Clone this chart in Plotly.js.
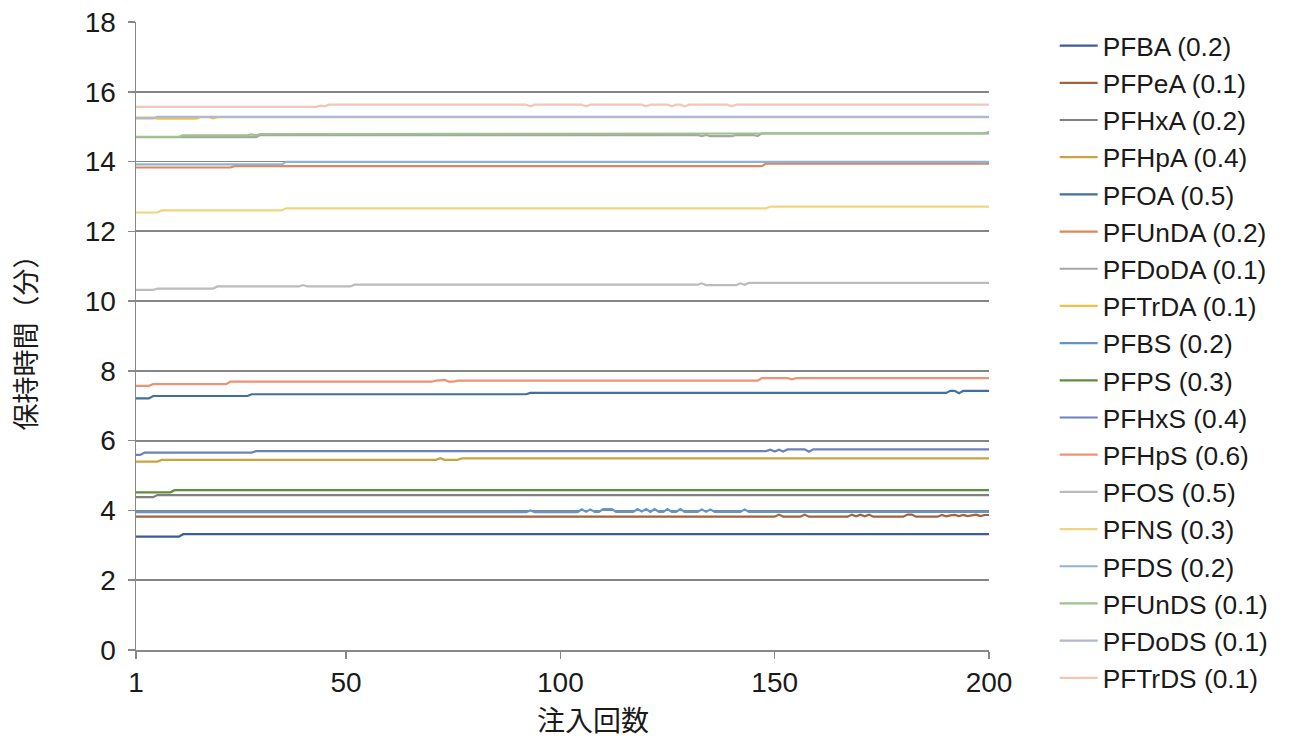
<!DOCTYPE html>
<html>
<head>
<meta charset="utf-8">
<script src="https://cdn.plot.ly/plotly-3.0.1.min.js"></script>
<style>
html,body{margin:0;padding:0;background:#fff;}
#chart{width:1294px;height:742px;}
</style>
</head>
<body>
<div id="chart"></div>
<script>
// Injection number (x) and step readings [fromInjection, retentionTime(min)] per compound
const injections = Array.from({length: 200}, (_, i) => i + 1);
const xTickVals = [1, 50, 100, 150, 200];
const xTickText = ['1', '50', '100', '150', '200'];

const names = ['PFBA (0.2)','PFPeA (0.1)','PFHxA (0.2)','PFHpA (0.4)','PFOA (0.5)','PFUnDA (0.2)',
  'PFDoDA (0.1)','PFTrDA (0.1)','PFBS (0.2)','PFPS (0.3)','PFHxS (0.4)','PFHpS (0.6)',
  'PFOS (0.5)','PFNS (0.3)','PFDS (0.2)','PFUnDS (0.1)','PFDoDS (0.1)','PFTrDS (0.1)'];

const PFBA   = [[1,3.25],[12,3.32]];
const PFPeA  = [[1,3.82],[151,3.88],[152,3.82],[157,3.88],[158,3.82],[168,3.88],[169,3.83],[170,3.88],[171,3.83],[172,3.88],[173,3.82],[181,3.88],[183,3.82],[189,3.87],[190,3.83],[191,3.86],[192,3.87],[193,3.84],[194,3.87],[195,3.84],[196,3.87],[197,3.88],[198,3.84],[199,3.87]];
const PFHxA  = [[1,4.38],[6,4.44]];
const PFHpA  = [[1,5.40],[7,5.45],[72,5.50],[73,5.45],[77,5.49]];
const PFOA   = [[1,7.21],[5,7.28],[28,7.33],[93,7.37],[191,7.43],[193,7.36],[194,7.43]];
const PFUnDA = [[1,13.83],[24,13.87],[148,13.94]];
const PFDoDA = [[1,14.70],[30,14.76],[133,14.73],[134,14.76],[135,14.73],[141,14.76],[146,14.73],[147,14.81]];
const PFTrDA = [[1,15.26],[6,15.23],[16,15.27],[19,15.24],[20,15.27]];
const PFBS   = [[1,3.95],[93,4.00],[94,3.95],[105,4.03],[106,3.96],[107,4.03],[108,3.96],[110,4.04],[113,3.96],[118,4.04],[119,3.97],[120,4.04],[121,3.96],[122,4.04],[123,3.96],[125,4.04],[126,3.96],[128,4.04],[129,3.96],[133,4.03],[134,3.96],[135,4.03],[136,3.96],[143,4.03],[144,3.96]];
const PFPS   = [[1,4.52],[10,4.58]];
const PFHxS  = [[1,5.59],[3,5.66],[29,5.70],[149,5.74],[150,5.69],[151,5.74],[152,5.69],[153,5.75],[158,5.68],[159,5.75]];
const PFHpS  = [[1,7.57],[5,7.62],[23,7.69],[71,7.72],[73,7.74],[74,7.69],[76,7.72],[147,7.79],[154,7.76],[155,7.79]];
const PFOS   = [[1,10.32],[6,10.36],[20,10.42],[40,10.46],[41,10.42],[52,10.47],[133,10.51],[134,10.46],[142,10.51],[143,10.47],[144,10.52]];
const PFNS   = [[1,12.54],[7,12.60],[36,12.66],[149,12.71]];
const PFDS   = [[1,13.92],[36,13.99]];
const PFUnDS = [[1,14.71],[12,14.75],[28,14.78],[29,14.75],[30,14.79],[147,14.81],[200,14.85]];
const PFDoDS = [[1,15.24],[6,15.28]];
const PFTrDS = [[1,15.57],[44,15.60],[45,15.58],[46,15.63],[93,15.58],[94,15.63],[106,15.58],[107,15.63],[120,15.58],[121,15.63],[126,15.58],[127,15.63],[129,15.58],[130,15.63],[140,15.58],[141,15.63]];

const seriesSteps = [PFBA,PFPeA,PFHxA,PFHpA,PFOA,PFUnDA,PFDoDA,PFTrDA,PFBS,PFPS,PFHxS,PFHpS,PFOS,PFNS,PFDS,PFUnDS,PFDoDS,PFTrDS];
const colors = ['#3B5C9E','#A4623C','#808080','#C9A443','#41709C','#DA885C',
  '#A6A6A6','#EEC244','#6396C8','#5E8E3C','#6C82C0','#EF9276',
  '#BBBBBB','#F3D47E','#90B2D9','#9DC28C','#AEB7D3','#F3C6B6'];

function expand(steps){
  return injections.map(i => { let v = steps[0][1]; for (const [s, val] of steps) if (i >= s) v = val; return v; });
}

const FONT = 'Liberation Sans, Arial, sans-serif';
const CJK = 'Noto Sans CJK JP, sans-serif';

const traces = seriesSteps.map((st, k) => ({
  type: 'scatter', mode: 'lines', x: injections, y: expand(st), name: names[k],
  line: {color: colors[k], width: 2.2}
}));

const layout = {
  width: 1294, height: 742,
  margin: {l: 136, r: 305, t: 22, b: 92},
  paper_bgcolor: '#fff', plot_bgcolor: '#fff',
  font: {family: FONT, size: 27, color: '#1a1a1a'},
  showlegend: true,
  legend: {x: 1.077, xanchor: 'left', y: 1.0, yanchor: 'top', maxheight: 742, itemwidth: 38,
    font: {family: FONT, size: 26.3, color: '#1a1a1a'}, bgcolor: 'rgba(0,0,0,0)'},
  xaxis: {range: [1, 200], tickvals: xTickVals, ticktext: xTickText, showgrid: false, zeroline: false,
    showline: true, linecolor: '#888', linewidth: 1.5, ticks: 'outside', ticklen: 7, tickcolor: '#888', tickwidth: 1.5,
    tickfont: {family: FONT, size: 28, color: '#1a1a1a'}},
  yaxis: {range: [0, 18], dtick: 2, showgrid: true, gridcolor: '#858585', gridwidth: 1.7, zeroline: false,
    showline: true, linecolor: '#888', linewidth: 1.5, ticks: 'outside', ticklen: 7, tickcolor: '#888', tickwidth: 1.5,
    ticklabelstandoff: 6,
    tickfont: {family: FONT, size: 28, color: '#1a1a1a'},
    title: {text: '保持時間（分）', font: {family: CJK, size: 27, color: '#1a1a1a'}, standoff: 40}},
  annotations: [{text: '注入回数', xref: 'paper', yref: 'paper', x: (593 - 136) / 853, y: -0.11, xanchor: 'center', yanchor: 'middle',
    showarrow: false, font: {family: CJK, size: 28, color: '#1a1a1a'}}]
};

Plotly.newPlot('chart', traces, layout, {displayModeBar: false, staticPlot: true});
</script>
</body>
</html>
